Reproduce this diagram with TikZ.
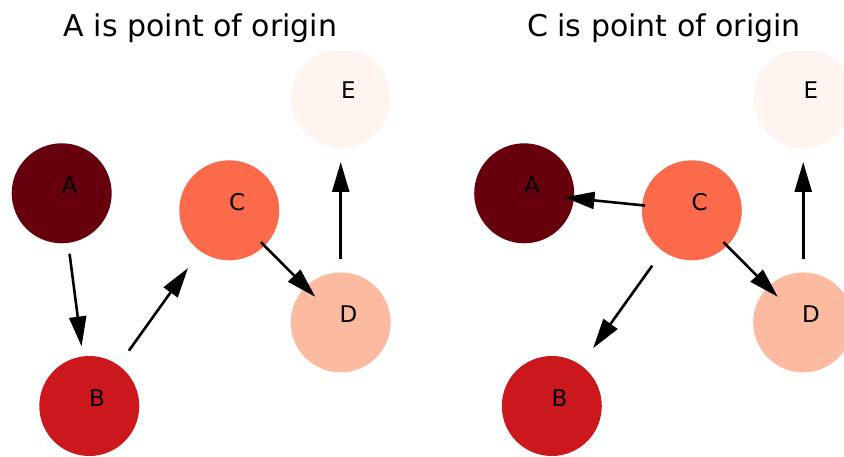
\documentclass[tikz,border=0pt]{standalone}
\usepackage{fontspec}
\setmainfont{DejaVu Sans}
\usetikzlibrary{arrows.meta,calc}
\definecolor{cA}{HTML}{67000D}
\definecolor{cB}{HTML}{CB181D}
\definecolor{cC}{HTML}{FB6A4A}
\definecolor{cD}{HTML}{FCBBA1}
\definecolor{cE}{HTML}{FFF5F0}
\tikzset{
  dot/.style={circle,draw=none,minimum size=100pt,inner sep=0pt,outer sep=0pt},
  lbl/.style={inner sep=0pt,font=\fontsize{23}{23}\selectfont},
  ttl/.style={inner sep=0pt,anchor=base,font=\fontsize{30}{30}\selectfont},
  edge/.style={line width=2.6pt,-{Triangle[length=30pt,width=17pt]}}
}
\begin{document}
\begin{tikzpicture}[x=1pt,y=-1pt]
\useasboundingbox (0,0) rectangle (844,457);
\node[ttl] (t1) at (200.5,37) {A is point of origin};
\node[ttl] (t2) at (664,37) {C is point of origin};
\begin{scope}
\clip (0,52) rectangle (844,457);
% left panel
\node[dot,fill=cA] (A1) at (61.7,193.3) {};
\node[dot,fill=cB] (B1) at (89.3,406) {};
\node[dot,fill=cC] (C1) at (229.3,210.3) {};
\node[dot,fill=cD] (D1) at (340.7,322.4) {};
\node[dot,fill=cE] (E1) at (340.7,98) {};
% right panel
\node[dot,fill=cA] (A2) at (524.2,193.3) {};
\node[dot,fill=cB] (B2) at (551.8,406) {};
\node[dot,fill=cC] (C2) at (691.8,210.3) {};
\node[dot,fill=cD] (D2) at (803.2,322.4) {};
\node[dot,fill=cE] (E2) at (803.2,98) {};
\end{scope}
% labels
\foreach \n/\t in {A1/A,B1/B,C1/C,D1/D,E1/E,A2/A,B2/B,C2/C,D2/D,E2/E}
  \node[lbl] (l\n) at ($(\n)+(7.8,-8.3)$) {\t};
% left edges
\draw[edge,shorten <=61pt,shorten >=60pt] (A1.center) -- (B1.center);
\draw[edge,shorten <=68pt,shorten >=71pt] (B1.center) -- (C1.center);
\draw[edge,shorten <=45pt,shorten >=36pt] (C1.center) -- (D1.center);
\draw[edge,shorten <=63pt,shorten >=64pt] (D1.center) -- (E1.center);
% right edges
\draw[edge,shorten <=47pt,shorten >=40.5pt] (C2.center) -- (A2.center);
\draw[edge,shorten <=68pt,shorten >=71pt] (C2.center) -- (B2.center);
\draw[edge,shorten <=45pt,shorten >=36pt] (C2.center) -- (D2.center);
\draw[edge,shorten <=63pt,shorten >=64pt] (D2.center) -- (E2.center);
\end{tikzpicture}
\end{document}
